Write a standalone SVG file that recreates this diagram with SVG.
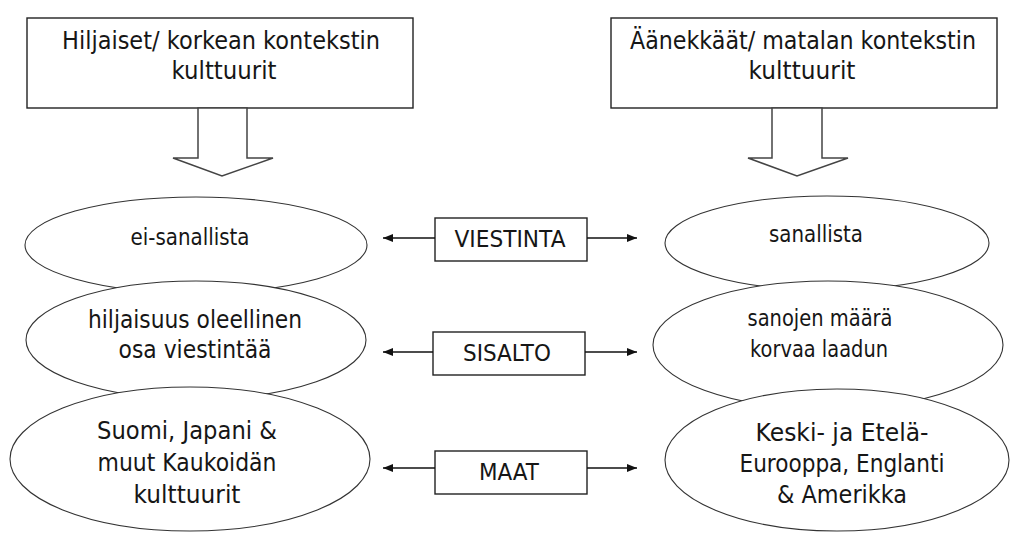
<svg xmlns="http://www.w3.org/2000/svg" width="1010" height="533" viewBox="0 0 1010 533">
<style>
  .box { fill: #fff; stroke: #222; stroke-width: 1.4; }
  .barrow { fill: #fff; stroke: #444; stroke-width: 1.5; stroke-linejoin: miter; }
  .ell { fill: #fff; stroke: #333; stroke-width: 1.1; }
  .lbl { fill: #fff; stroke: #222; stroke-width: 1.4; }
  .t { font-family: "DejaVu Sans", "Liberation Sans", sans-serif; font-size: 23px; fill: #161616; text-anchor: middle; }
  .big { font-size: 25px; }
  .mid { font-size: 24px; }
  .conn { stroke: #111; stroke-width: 1.4; fill: none; }
</style>
<defs>
  <marker id="ah" viewBox="0 0 10 8" refX="10" refY="4" markerWidth="10" markerHeight="8" markerUnits="userSpaceOnUse" orient="auto">
    <path d="M0,0 L10,4 L0,8 Z" fill="#111"/>
  </marker>
</defs>
<rect width="1010" height="533" fill="#fff"/>

<g id="box-left">
  <rect class="box" x="27" y="18" width="386" height="90"/>
  <text class="t mid" x="221" y="49" textLength="318" lengthAdjust="spacingAndGlyphs">Hiljaiset/ korkean kontekstin</text>
  <text class="t big" x="224" y="79" textLength="105" lengthAdjust="spacingAndGlyphs">kulttuurit</text>
</g>
<g id="box-right">
  <rect class="box" x="611" y="18" width="386" height="90"/>
  <text class="t mid" x="803" y="49" textLength="346" lengthAdjust="spacingAndGlyphs">Äänekkäät/ matalan kontekstin</text>
  <text class="t big" x="802" y="79" textLength="107" lengthAdjust="spacingAndGlyphs">kulttuurit</text>
</g>

<g id="blockarrow-left">
  <polygon class="barrow" points="198,108 247,108 247,158 273,158 222,176 173,158 198,158"/>
</g>
<g id="blockarrow-right">
  <polygon class="barrow" points="772,108 822,108 822,158 848,158 797,176 748,158 772,158"/>
</g>

<g id="ellipse-left-1">
  <ellipse class="ell" cx="196" cy="245" rx="171" ry="48"/>
  <text class="t" x="190" y="245" textLength="119" lengthAdjust="spacingAndGlyphs">ei-sanallista</text>
</g>
<g id="ellipse-left-2">
  <ellipse class="ell" cx="196" cy="340" rx="170" ry="59"/>
  <text class="t big" x="195" y="328" textLength="214" lengthAdjust="spacingAndGlyphs">hiljaisuus oleellinen</text>
  <text class="t big" x="195" y="358" textLength="153" lengthAdjust="spacingAndGlyphs">osa viestintää</text>
</g>
<g id="ellipse-left-3">
  <ellipse class="ell" cx="190" cy="459" rx="180" ry="72"/>
  <text class="t big" x="187" y="439" textLength="180" lengthAdjust="spacingAndGlyphs">Suomi, Japani &amp;</text>
  <text class="t big" x="187" y="471" textLength="179" lengthAdjust="spacingAndGlyphs">muut Kaukoidän</text>
  <text class="t big" x="187" y="503" textLength="107" lengthAdjust="spacingAndGlyphs">kulttuurit</text>
</g>

<g id="ellipse-right-1">
  <ellipse class="ell" cx="827" cy="243" rx="162" ry="47"/>
  <text class="t" x="816" y="242" textLength="94" lengthAdjust="spacingAndGlyphs">sanallista</text>
</g>
<g id="ellipse-right-2">
  <ellipse class="ell" cx="828" cy="345" rx="175" ry="64"/>
  <text class="t" x="820" y="326" textLength="145" lengthAdjust="spacingAndGlyphs">sanojen määrä</text>
  <text class="t" x="819" y="357" textLength="138" lengthAdjust="spacingAndGlyphs">korvaa laadun</text>
</g>
<g id="ellipse-right-3">
  <ellipse class="ell" cx="837" cy="460" rx="172" ry="71"/>
  <text class="t big" x="842" y="441" textLength="173" lengthAdjust="spacingAndGlyphs">Keski- ja Etelä-</text>
  <text class="t big" x="842" y="472" textLength="205" lengthAdjust="spacingAndGlyphs">Eurooppa, Englanti</text>
  <text class="t big" x="842" y="503" textLength="130" lengthAdjust="spacingAndGlyphs">&amp; Amerikka</text>
</g>

<g id="label-viestinta">
  <rect class="lbl" x="435" y="218" width="152" height="43"/>
  <text class="t" x="510" y="247" textLength="111" lengthAdjust="spacingAndGlyphs">VIESTINTA</text>
</g>
<g id="label-sisalto">
  <rect class="lbl" x="433" y="332" width="152" height="43"/>
  <text class="t" x="507" y="361" textLength="88" lengthAdjust="spacingAndGlyphs">SISALTO</text>
</g>
<g id="label-maat">
  <rect class="lbl" x="435" y="451" width="152" height="43"/>
  <text class="t" x="509" y="480" textLength="60" lengthAdjust="spacingAndGlyphs">MAAT</text>
</g>

<g id="connectors">
  <line class="conn" x1="435" y1="238" x2="383" y2="238" marker-end="url(#ah)"/>
  <line class="conn" x1="587" y1="238" x2="637" y2="238" marker-end="url(#ah)"/>
  <line class="conn" x1="433" y1="352" x2="383" y2="352" marker-end="url(#ah)"/>
  <line class="conn" x1="585" y1="352" x2="637" y2="352" marker-end="url(#ah)"/>
  <line class="conn" x1="435" y1="468" x2="383" y2="468" marker-end="url(#ah)"/>
  <line class="conn" x1="587" y1="468" x2="637" y2="468" marker-end="url(#ah)"/>
</g>
</svg>
